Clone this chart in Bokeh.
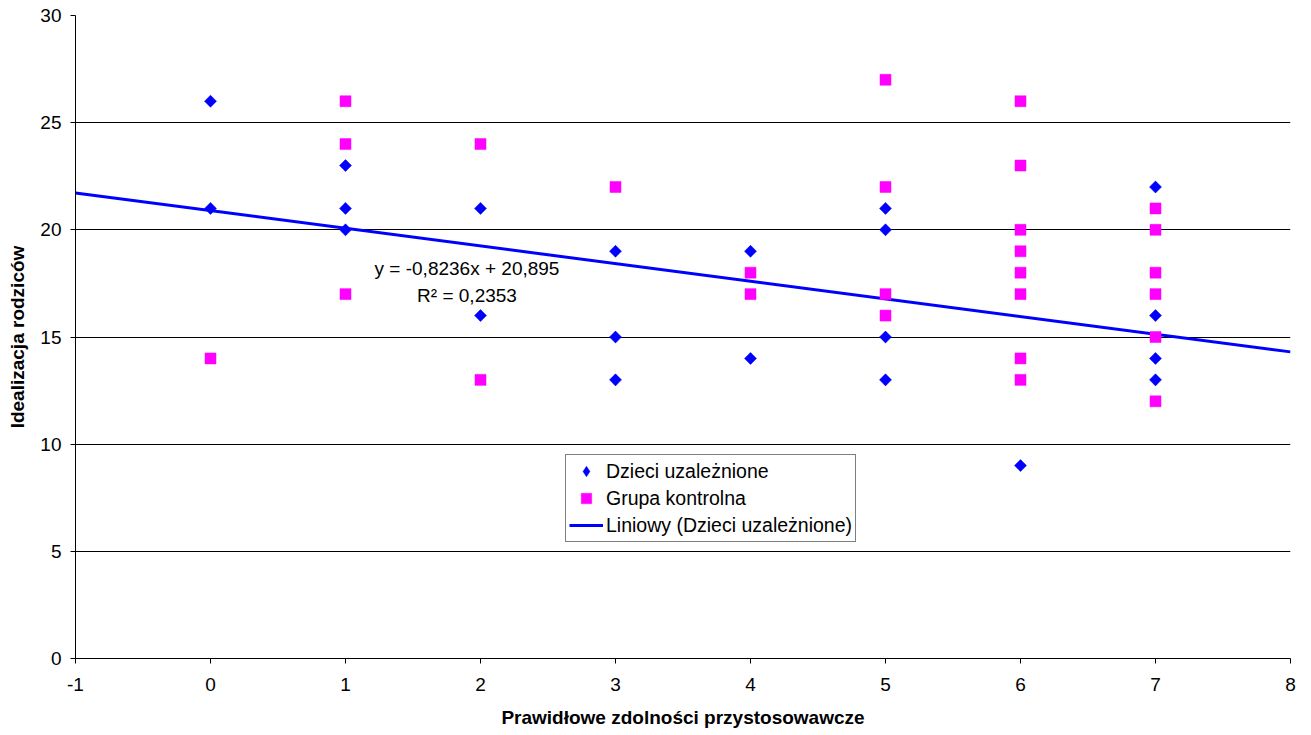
import math
from bokeh.plotting import figure
from bokeh.models import Range1d, FixedTicker, Legend, LegendItem, Label, ColumnDataSource
from bokeh.embed import file_html
from bokeh.resources import INLINE

# --- data ---
addicted_x = [0, 0, 1, 1, 1, 2, 2, 3, 3, 3, 4, 4, 5, 5, 5, 5, 6, 7, 7, 7, 7]
addicted_y = [26, 21, 23, 21, 20, 21, 16, 19, 15, 13, 19, 14, 21, 20, 15, 13, 9, 22, 16, 14, 13]

control_x = [0, 1, 1, 1, 2, 2, 3, 4, 4, 5, 5, 5, 5,
             6, 6, 6, 6, 6, 6, 6, 6, 7, 7, 7, 7, 7, 7]
control_y = [14, 26, 24, 17, 24, 13, 22, 18, 17, 27, 22, 17, 16,
             26, 23, 20, 19, 18, 17, 14, 13, 21, 20, 18, 17, 15, 12]

trend_slope = -0.8236
trend_intercept = 20.895
trend_r2 = 0.2353

x_ticks = [-1, 0, 1, 2, 3, 4, 5, 6, 7, 8]
y_ticks = [0, 5, 10, 15, 20, 25, 30]

series_names = ["Dzieci uzależnione", "Grupa kontrolna", "Liniowy (Dzieci uzależnione)"]
x_title = "Prawidłowe zdolności przystosowawcze"
y_title = "Idealizacja rodziców"

FONT = "Liberation Sans"
FS = "19px"
BLUE = "#0000FF"
MAGENTA = "#FF00FF"

p = figure(width=1303, height=731, output_backend="svg", toolbar_location=None,
           x_range=Range1d(x_ticks[0], x_ticks[-1]), y_range=Range1d(y_ticks[0], y_ticks[-1]),
           min_border_left=75, min_border_right=13, min_border_top=15, min_border_bottom=73)
p.outline_line_color = None
p.background_fill_color = "white"
p.border_fill_color = "white"

# axes
for ax in (p.xaxis[0], p.yaxis[0]):
    ax.axis_line_color = "black"
    ax.axis_line_width = 1
    ax.major_tick_line_color = "black"
    ax.major_tick_out = 5
    ax.major_tick_in = 0
    ax.minor_tick_line_color = None
    ax.major_label_text_font = FONT
    ax.major_label_text_font_size = FS
    ax.major_label_text_color = "black"
    ax.axis_label_text_font = FONT
    ax.axis_label_text_font_size = FS
    ax.axis_label_text_font_style = "bold"
    ax.axis_label_text_color = "black"

p.xaxis.ticker = FixedTicker(ticks=x_ticks)
p.yaxis.ticker = FixedTicker(ticks=y_ticks)
p.xaxis.major_label_overrides = {t: str(t) for t in x_ticks}
p.xaxis.axis_label = x_title
p.yaxis.axis_label = y_title
p.xaxis.major_label_standoff = 14
p.yaxis.major_label_standoff = 9
p.xaxis.axis_label_standoff = 13
p.yaxis.axis_label_standoff = 9

p.xgrid.grid_line_color = None
p.ygrid.grid_line_color = "black"
p.ygrid.grid_line_width = 1
p.ygrid.ticker = FixedTicker(ticks=y_ticks[1:])

# trend line
tx = [x_ticks[0], x_ticks[-1]]
ty = [trend_slope * v + trend_intercept for v in tx]
r_line = p.line(tx, ty, line_color=BLUE, line_width=3)

# scatter
src_a = ColumnDataSource(dict(x=addicted_x, y=addicted_y))
src_c = ColumnDataSource(dict(x=control_x, y=control_y))
r_c = p.scatter("x", "y", source=src_c, marker="square", size=11,
                fill_color=MAGENTA, line_color=MAGENTA, line_width=0.5)
# diamond renderer (used as legend key; covered by the rotated squares on the plot)
r_a_key = p.scatter("x", "y", source=src_a, marker="diamond", size=11,
                    fill_color=BLUE, line_color=BLUE, line_width=0.5)
r_a = p.scatter("x", "y", source=src_a, marker="square", size=8.5, angle=math.pi / 4,
                fill_color=BLUE, line_color=BLUE, line_width=0.5)

# equation labels
eq = "y = " + f"{trend_slope:.4f}".replace(".", ",") + "x + " + f"{trend_intercept:.3f}".replace(".", ",")
r2 = "R² = " + f"{trend_r2:.4f}".replace(".", ",")
for txt, yy in ((eq, 18.2), (r2, 16.94)):
    p.add_layout(Label(x=1.9, y=yy, text=txt, text_align="center", text_baseline="middle",
                       text_font=FONT, text_font_size=FS, text_color="black"))

legend = Legend(items=[LegendItem(label=series_names[0], renderers=[r_a_key]),
                       LegendItem(label=series_names[1], renderers=[r_c]),
                       LegendItem(label=series_names[2], renderers=[r_line])],
                location=(490, 116))
legend.label_text_font = FONT
legend.label_text_font_size = "19.5px"
legend.label_text_color = "black"
legend.border_line_color = "black"
legend.border_line_width = 1
legend.background_fill_color = "white"
legend.background_fill_alpha = 1
legend.padding = 3
legend.spacing = 1
legend.margin = 0
legend.label_height = 26
legend.glyph_height = 26
legend.glyph_width = 34
legend.label_standoff = 3
p.add_layout(legend, "center")

open("out.html", "w").write(file_html(p, INLINE))
